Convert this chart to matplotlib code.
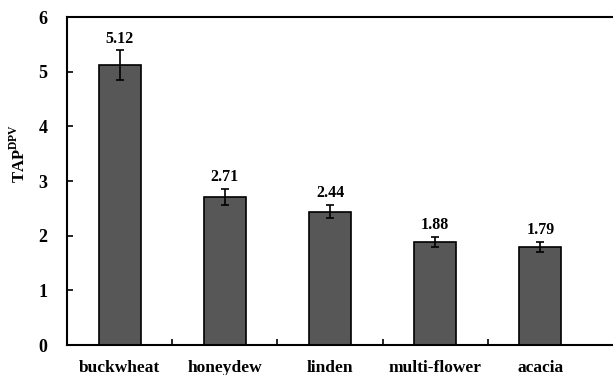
import matplotlib
matplotlib.use("Agg")
import matplotlib.pyplot as plt
import numpy as np

# Data
categories = ["buckwheat", "honeydew", "linden", "multi-flower", "acacia"]
tap_values = [5.12, 2.71, 2.44, 1.88, 1.79]
tap_errors = [0.27, 0.14, 0.12, 0.09, 0.09]

plt.rcParams['font.family'] = ['Liberation Serif', 'DejaVu Serif']
plt.rcParams['font.weight'] = 'bold'
plt.rcParams['mathtext.fontset'] = 'custom'
plt.rcParams['mathtext.rm'] = 'Liberation Serif:bold'
plt.rcParams['mathtext.bf'] = 'Liberation Serif:bold'

fig = plt.figure(figsize=(6.13, 3.75), dpi=100)
# axes left edge at x=67px, bottom at y=345px, top at y=17px; right side runs off the image
ax = fig.add_axes([67 / 613, (375 - 345) / 375, 1 - 67 / 613, (345 - 17) / 375])

x = np.arange(len(categories))
ax.bar(x, tap_values, width=0.4, color='#575757', edgecolor='black', linewidth=1.2,
       yerr=tap_errors, error_kw=dict(ecolor='black', elinewidth=1.2, capsize=3, capthick=1.2))

for xi, v, e in zip(x, tap_values, tap_errors):
    ax.text(xi, v + e + 0.07, f'{v:.2f}', ha='center', va='bottom', fontsize=11.5, fontweight='bold')

ax.set_xlim(-0.5, -0.5 + (613 - 67) / 105.2)
ax.set_ylim(0, 6)
ax.set_yticks(range(0, 7))
ax.tick_params(axis='y', direction='in', length=4, width=1.2, labelsize=13, pad=14)

ax.set_xticks(x)
ax.set_xticklabels(categories, fontsize=12.5, fontweight='bold')
ax.tick_params(axis='x', length=0, pad=11)
# small separator ticks between categories
ax.set_xticks(x[:-1] + 0.5, minor=True)
ax.tick_params(axis='x', which='minor', direction='in', length=4, width=1.2)

for side in ['left', 'bottom', 'top']:
    ax.spines[side].set_linewidth(1.5)
ax.spines['right'].set_visible(False)

ax.set_ylabel(r'TAP$^{\mathrm{DPV}}$', fontsize=12, fontweight='bold')
ax.yaxis.set_label_coords(-0.07, 0.585)

fig.savefig('out.png', dpi=100)
plt.close(fig)
